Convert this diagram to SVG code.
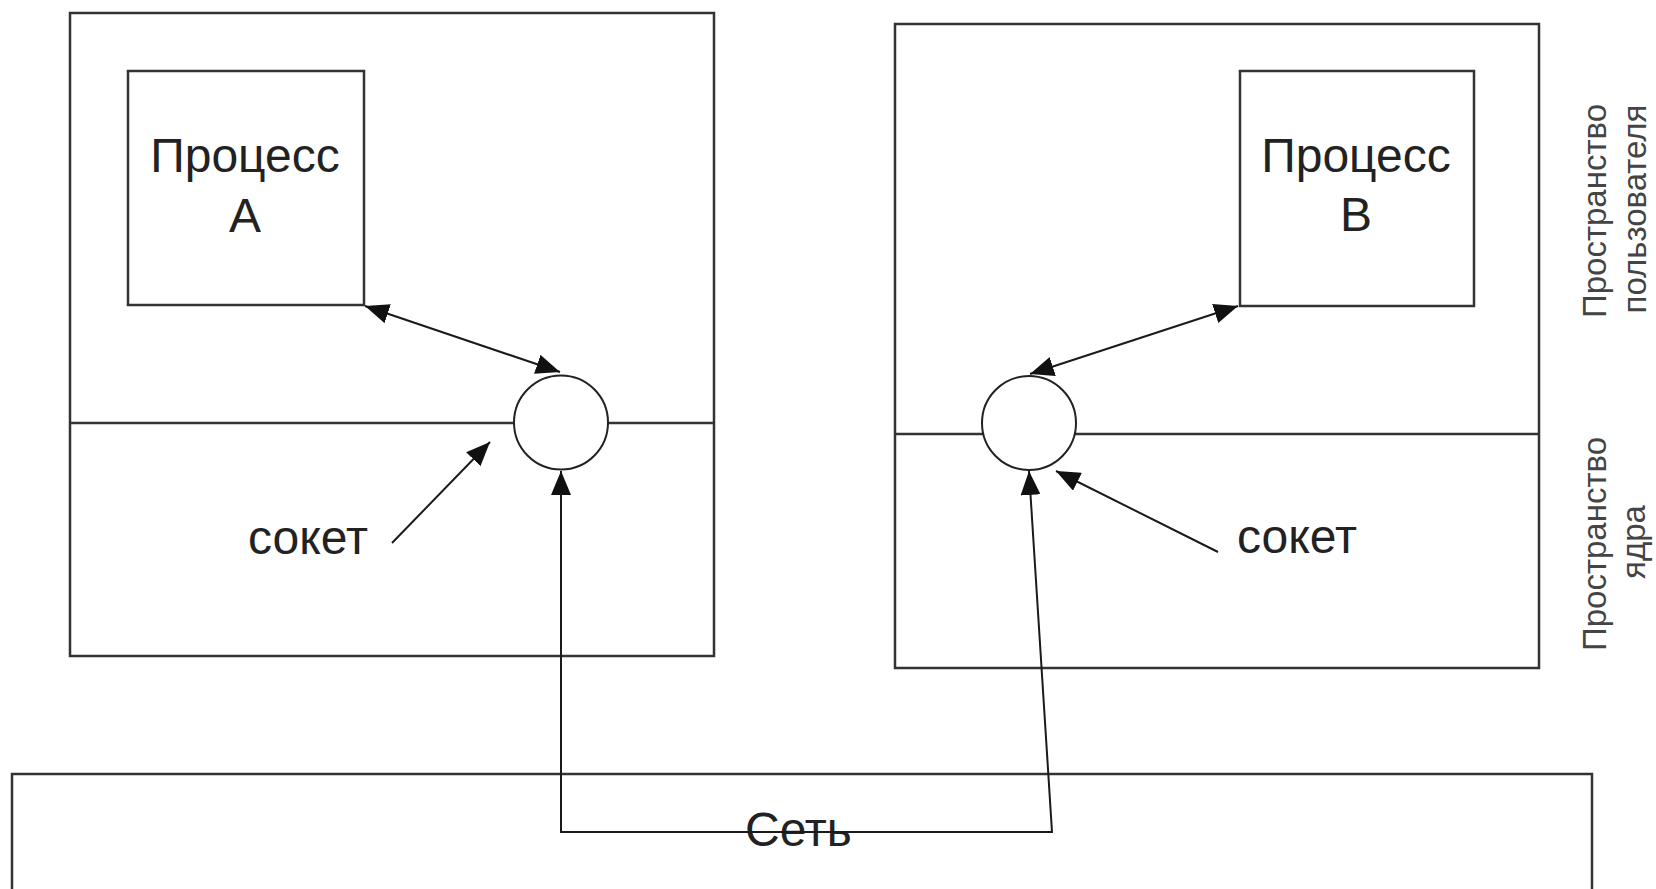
<svg xmlns="http://www.w3.org/2000/svg" width="1656" height="889" viewBox="0 0 1656 889">
<style>
.box{fill:#fff;stroke:#333;stroke-width:2.5}
.div{stroke:#333;stroke-width:2.5;fill:none}
.sock{fill:#fff;stroke:#222;stroke-width:2}
.con{stroke:#1a1a1a;stroke-width:2;fill:none}
.t{font-family:"Liberation Sans",Arial,sans-serif;font-size:48px;fill:#222}
.v{font-family:"Liberation Sans",Arial,sans-serif;font-size:33px;fill:#444;text-anchor:middle}
</style>
<defs>
<marker id="ah" viewBox="0 0 24 20" refX="24" refY="10" markerWidth="24" markerHeight="20" markerUnits="userSpaceOnUse" orient="auto-start-reverse">
<path d="M0,0 L24,10 L0,20 z" fill="#111"/>
</marker>
</defs>
<rect width="1656" height="889" fill="#fff"/>
<g id="network">
<rect class="box" x="12" y="774" width="1580" height="140"/>
<text class="t" x="745" y="846">Сеть</text>
</g>
<g id="hostA">
<rect class="box" x="70" y="13" width="644" height="643"/>
<line class="div" x1="70" y1="423" x2="714" y2="423"/>
</g>
<g id="hostB">
<rect class="box" x="895" y="24" width="644" height="644"/>
<line class="div" x1="895" y1="434" x2="1539" y2="434"/>
</g>
<g id="processA">
<rect class="box" x="128" y="71" width="236" height="234"/>
<text class="t" x="245" y="172" text-anchor="middle">Процесс</text>
<text class="t" x="245" y="232" text-anchor="middle">A</text>
</g>
<g id="processB">
<rect class="box" x="1240" y="71" width="234" height="235"/>
<text class="t" x="1356" y="172" text-anchor="middle">Процесс</text>
<text class="t" x="1356" y="231" text-anchor="middle">B</text>
</g>
<g id="socketA">
<circle class="sock" cx="561" cy="422.5" r="47"/>
<text class="t" x="248" y="554">сокет</text>
</g>
<g id="socketB">
<circle class="sock" cx="1029" cy="423" r="47"/>
<text class="t" x="1237" y="553">сокет</text>
</g>
<g id="labels">
<text class="v" transform="translate(1606,211) rotate(-90)">Пространство</text>
<text class="v" transform="translate(1646,209) rotate(-90)">пользователя</text>
<text class="v" transform="translate(1606,544) rotate(-90)">Пространство</text>
<text class="v" transform="translate(1645,542) rotate(-90)">ядра</text>
</g>
<g id="connectors">
<line class="con" x1="365" y1="306" x2="560" y2="372" marker-start="url(#ah)" marker-end="url(#ah)"/>
<line class="con" x1="1238" y1="306" x2="1030" y2="374" marker-start="url(#ah)" marker-end="url(#ah)"/>
<line class="con" x1="392" y1="543" x2="490" y2="442" marker-end="url(#ah)"/>
<line class="con" x1="1218" y1="552" x2="1056" y2="471" marker-end="url(#ah)"/>
<path class="con" d="M561,471 L561,832 L1052,832 L1029,471" marker-start="url(#ah)" marker-end="url(#ah)"/>
</g>
</svg>
